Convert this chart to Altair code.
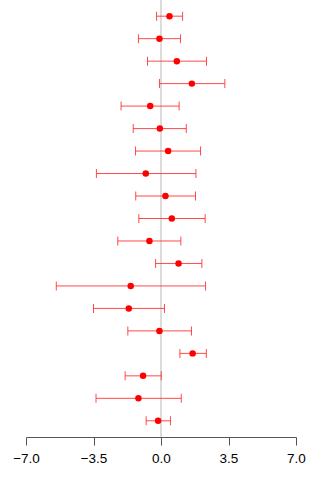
import altair as alt
import pandas as pd

# Study estimates with lower / upper confidence limits, listed top to bottom
estimate = [0.44, -0.08, 0.82, 1.60, -0.56, -0.06, 0.37, -0.79, 0.23, 0.56,
            -0.60, 0.91, -1.57, -1.67, -0.08, 1.64, -0.93, -1.17, -0.15]
lower = [-0.23, -1.17, -0.70, -0.08, -2.07, -1.44, -1.32, -3.35, -1.31, -1.15,
         -2.24, -0.28, -5.43, -3.50, -1.72, 0.98, -1.86, -3.37, -0.77]
upper = [1.12, 1.01, 2.36, 3.31, 0.94, 1.31, 2.05, 1.81, 1.79, 2.29,
         1.03, 2.12, 2.31, 0.18, 1.58, 2.35, 0.01, 1.05, 0.49]
tick_values = [-7.0, -3.5, 0.0, 3.5, 7.0]

n = len(estimate)
df = pd.DataFrame({
    "row": list(range(n, 0, -1)),
    "est": estimate,
    "lo": lower,
    "hi": upper,
})

W, H = 270, 437
x_scale = alt.Scale(domain=[-7, 7], nice=False, zero=False)
y_scale = alt.Scale(domain=[1 - 0.04 * (n - 1), n + 0.04 * (n - 1)], nice=False, zero=False)

base = alt.Chart(df)

zero_line = alt.Chart(pd.DataFrame({"x": [0.0]})).mark_rule(
    color="#dcdcdc", strokeWidth=2
).encode(
    x=alt.X("x:Q", scale=x_scale,
            axis=alt.Axis(values=tick_values, format=".1f", grid=False,
                          title=None, tickSize=8, domainColor="#555555",
                          tickColor="#555555", labelColor="#000000",
                          labelFontSize=13.5, labelFont="Liberation Sans",
                          labelPadding=6, labelFlush=False)),
    y=alt.value(0),
    y2=alt.value(H),
)

bars = base.mark_rule(color="#ff2a2a", strokeWidth=1, opacity=0.85).encode(
    x=alt.X("lo:Q", scale=x_scale),
    x2="hi:Q",
    y=alt.Y("row:Q", scale=y_scale, axis=None),
)

caps_lo = base.mark_tick(color="#ff2a2a", orient="vertical", size=9,
                         thickness=1, opacity=0.85).encode(
    x=alt.X("lo:Q", scale=x_scale),
    y=alt.Y("row:Q", scale=y_scale, axis=None),
)
caps_hi = base.mark_tick(color="#ff2a2a", orient="vertical", size=9,
                         thickness=1, opacity=0.85).encode(
    x=alt.X("hi:Q", scale=x_scale),
    y=alt.Y("row:Q", scale=y_scale, axis=None),
)

points = base.mark_circle(color="#ff0000", size=42, opacity=1).encode(
    x=alt.X("est:Q", scale=x_scale),
    y=alt.Y("row:Q", scale=y_scale, axis=None),
)

chart = alt.layer(zero_line, bars, caps_lo, caps_hi, points).properties(
    width=W,
    height=H,
    autosize=alt.AutoSizeParams(type="none"),
    padding={"left": 26, "top": 0, "right": 24, "bottom": 43},
    background="white",
).configure_view(stroke=None)

chart.save("out.html", embed_options={"renderer": "svg", "actions": False})
